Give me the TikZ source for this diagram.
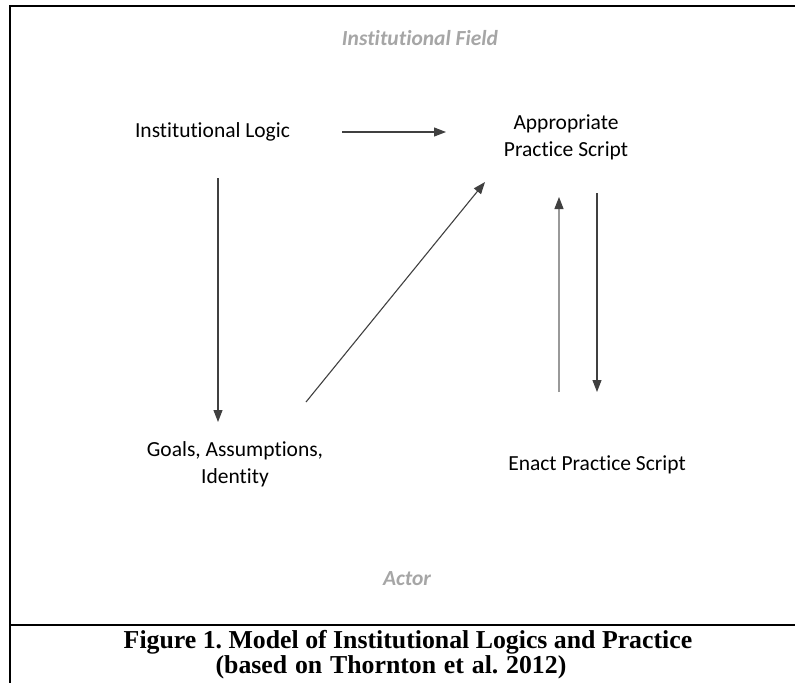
\documentclass[tikz,border=0pt]{standalone}
\usepackage{fontspec}
\setmainfont{Carlito}[RawFeature={-liga;-clig}]
\newfontfamily\capfont{Liberation Serif}
\usetikzlibrary{arrows.meta}
\definecolor{arrowgray}{HTML}{404040}
\definecolor{labelgray}{HTML}{A6A6A6}
\frenchspacing
\begin{document}
\begin{tikzpicture}[x=1pt,y=-1pt,
  lbl/.style={inner sep=0pt, anchor=base, align=center, font=\fontsize{21.5}{27}\selectfont, text=black},
  glbl/.style={inner sep=0pt, anchor=base, font=\fontsize{21.5}{27}\selectfont\bfseries\itshape, text=labelgray},
  captxt/.style={inner sep=0pt, anchor=base, font=\capfont\fontsize{25.8}{23}\selectfont\bfseries},
  arr/.style={draw=arrowgray, line width=1.1pt, -{Triangle[length=12pt,width=9pt,color=arrowgray]}},
  framestyle/.style={draw=black, line width=2pt}]
\useasboundingbox (0,0) rectangle (795,683);
\draw[framestyle] (795,6) -- (10,6) -- (10,683);
\draw[draw=black, line width=1.2pt] (10,625) -- (795,625);

\node[glbl] (field) at (420,45) {Institutional Field};
\node[glbl] (actor) at (407,585) {Actor};

\node[lbl] (logic) at (212.5,137) {Institutional Logic};
\node[lbl] (script) at (566,156) {Appropriate\\Practice Script};
\node[lbl] (goals) at (235,483) {Goals, Assumptions,\\Identity};
\node[lbl] (enact) at (597,470) {Enact Practice Script};

\node[captxt] (cap1) at (408,648) {Figure 1. Model of Institutional Logics and Practice};
\node[captxt] (cap2) at (391,673) {\spaceskip=7.8pt (based on Thornton et al. 2012)};

\coordinate (h1) at (342,132);
\coordinate (h2) at (446,132);
\coordinate (v1) at (218,178);
\coordinate (v2) at (218,422);
\coordinate (d1) at (306,402);
\coordinate (d2) at (485,182);
\coordinate (u1) at (559,392);
\coordinate (u2) at (559,197);
\coordinate (w1) at (597,193);
\coordinate (w2) at (597,392);

\draw[arr] (h1) -- (h2);
\draw[arr] (v1) -- (v2);
\draw[arr] (d1) -- (d2);
\draw[arr, draw=gray!80] (u1) -- (u2);
\draw[arr] (w1) -- (w2);
\end{tikzpicture}
\end{document}
